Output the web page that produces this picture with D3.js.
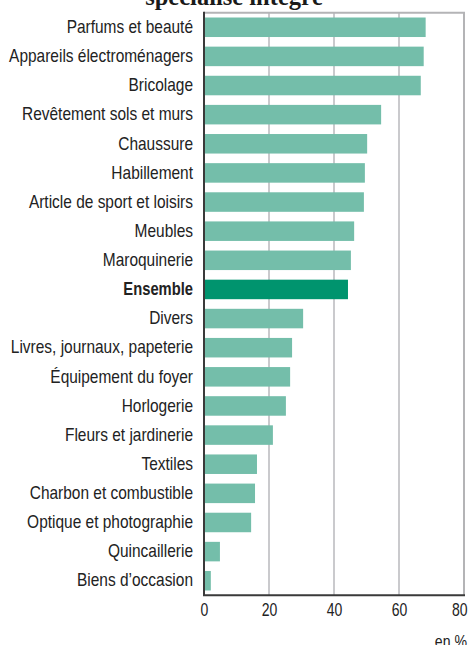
<!DOCTYPE html>
<html>
<head>
<meta charset="utf-8">
<script src="https://cdn.jsdelivr.net/npm/d3@7"></script>
<style>
  html, body { margin: 0; padding: 0; background: #fff; }
  svg { display: block; }
</style>
</head>
<body>
<svg id="chart" width="470" height="645"></svg>
<script>
// Part des ventes par secteur (en %)
const categories = [
  "Parfums et beauté", "Appareils électroménagers", "Bricolage",
  "Revêtement sols et murs", "Chaussure", "Habillement",
  "Article de sport et loisirs", "Meubles", "Maroquinerie", "Ensemble",
  "Divers", "Livres, journaux, papeterie", "Équipement du foyer",
  "Horlogerie", "Fleurs et jardinerie", "Textiles",
  "Charbon et combustible", "Optique et photographie", "Quincaillerie",
  "Biens d’occasion"
];
const values = [
  68.2, 67.6, 66.7, 54.5, 50.2, 49.5, 49.2, 46.2, 45.2, 44.3,
  30.5, 27.1, 26.5, 25.2, 21.2, 16.3, 15.7, 14.5, 4.9, 2.1
];
const highlight = "Ensemble";
const xTicks = [0, 20, 40, 60, 80];
const title = "spécialisé intégré";
const unitLabel = "en %";

const data = categories.map((c, i) => ({ name: c, value: values[i] }));

const svg = d3.select("#chart");
const plotLeft = 204, plotRight = 464, plotTop = 12.7, plotBottom = 595.3;
// Narrow sans look: Liberation Sans squeezed horizontally
const labelFont = "'Liberation Sans', Arial, sans-serif";

const x = d3.scaleLinear().domain([0, 80]).range([plotLeft, plotRight]);
const y = d3.scaleBand().domain(categories).range([plotTop, plotBottom])
  .paddingInner(0.33).paddingOuter(0.165);

// Title (partly above the frame)
svg.append("text")
  .attr("x", 234).attr("y", 5)
  .attr("text-anchor", "middle")
  .attr("font-family", "'Liberation Serif', 'DejaVu Serif', serif")
  .attr("font-weight", "bold")
  .attr("font-size", 24.5)
  .attr("fill", "#1a1a1a")
  .text(title);

// Vertical gridlines
svg.append("g").selectAll("line")
  .data(xTicks.filter(t => t > 0 && t < 80))
  .join("line")
  .attr("x1", d => x(d)).attr("x2", d => x(d))
  .attr("y1", plotTop).attr("y2", plotBottom)
  .attr("stroke", "#b8b8bc").attr("stroke-width", 1.5);

// Frame: grey top and right
svg.append("path")
  .attr("d", `M${plotLeft},${plotTop}H${plotRight}V${plotBottom}`)
  .attr("fill", "none")
  .attr("stroke", "#b4b4b6").attr("stroke-width", 2);

// Bars
svg.append("g").selectAll("rect")
  .data(data)
  .join("rect")
  .attr("x", x(0) + 1)
  .attr("y", d => y(d.name))
  .attr("width", d => x(d.value) - x(0) - 1)
  .attr("height", y.bandwidth())
  .attr("fill", d => d.name === highlight ? "#00946e" : "#74beaa");

// Category labels
const yAxis = svg.append("g")
  .attr("transform", `translate(${plotLeft},0)`)
  .call(d3.axisLeft(y).tickSize(0).tickPadding(11));
yAxis.select(".domain").remove();
yAxis.selectAll("text")
  .attr("x", 0)
  .attr("transform", d => `translate(-11,0) scale(${d === highlight ? 0.82 : 0.86},1)`)
  .attr("font-family", labelFont)
  .attr("font-size", 18)
  .attr("fill", "#222")
  .attr("font-weight", d => d === highlight ? "bold" : "normal");

// Axis lines: dark left and bottom
svg.append("path")
  .attr("d", `M${plotLeft},${plotTop - 1}V${plotBottom}H${plotRight + 1}`)
  .attr("fill", "none")
  .attr("stroke", "#3a3a3a").attr("stroke-width", 2);

// X tick labels
const xAxis = svg.append("g")
  .attr("transform", `translate(0,${plotBottom})`)
  .call(d3.axisBottom(x).tickValues(xTicks).tickSize(0).tickPadding(8));
xAxis.select(".domain").remove();
xAxis.selectAll("text")
  .attr("transform", "scale(0.8,1)")
  .attr("font-family", labelFont)
  .attr("font-size", 17.5)
  .attr("fill", "#222");
xAxis.selectAll(".tick").filter(d => d === 80).select("text")
  .attr("text-anchor", "end").attr("transform", "translate(3,0) scale(0.8,1)");

// Unit label
svg.append("text")
  .attr("transform", "translate(467,646.5) scale(0.83,1)")
  .attr("text-anchor", "end")
  .attr("font-family", labelFont)
  .attr("font-size", 17)
  .attr("fill", "#222")
  .text(unitLabel);
</script>
</body>
</html>
